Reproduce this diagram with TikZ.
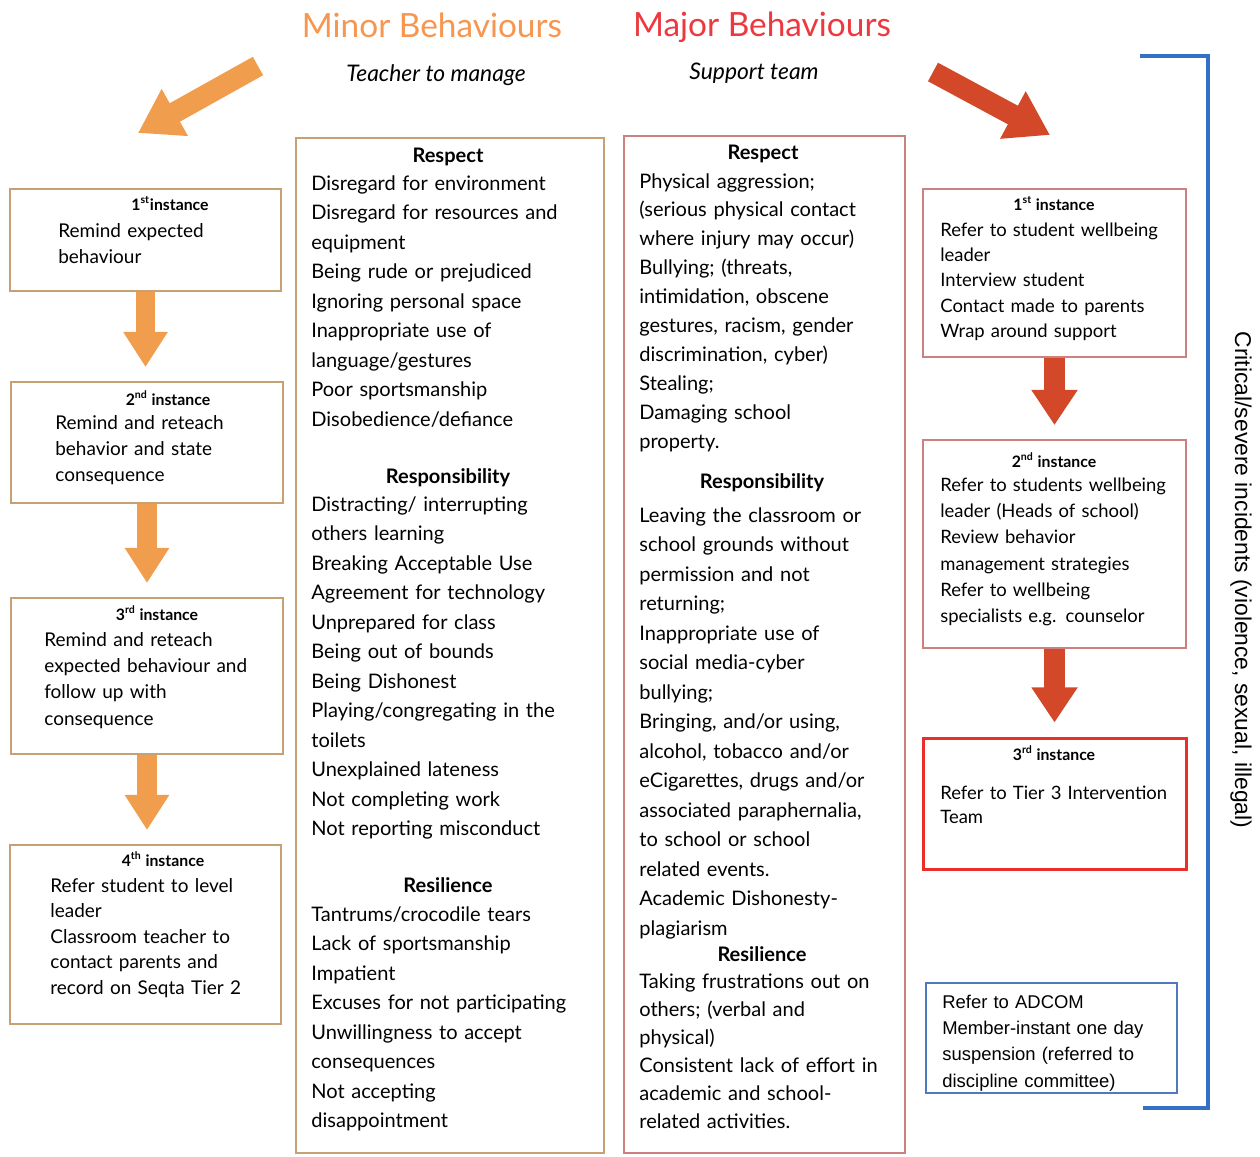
\documentclass[tikz,border=0pt]{standalone}
\usepackage{fontspec}
\setmainfont{Lato}
\newfontfamily\arialfont{Liberation Sans}
\usetikzlibrary{
  arrows.meta,
  positioning,
  fit
}
\definecolor{titleO}{RGB}{246,150,80}
\definecolor{titleR}{RGB}{236,56,62}
\definecolor{tanline}{RGB}{200,160,118}
\definecolor{roseline}{RGB}{205,128,128}
\definecolor{alertline}{RGB}{232,48,40}
\definecolor{adcomline}{RGB}{80,122,192}
\definecolor{bracketline}{RGB}{52,112,196}
\definecolor{arrowO}{RGB}{240,158,78}
\definecolor{arrowR}{RGB}{212,72,42}

\begin{document}
\begin{tikzpicture}[x=0.02cm, y=-0.02cm,
  tanbox/.style={draw=tanline, line width=1.1pt, inner sep=0pt},
  rosebox/.style={draw=roseline, line width=1.1pt, inner sep=0pt},
  redbox/.style={draw=alertline, line width=1.7pt, inner sep=0pt},
  bluebox/.style={draw=adcomline, line width=1.3pt, inner sep=0pt},
  head/.style={anchor=base, inner sep=0pt, font=\fontsize{11.4}{13}\selectfont\bfseries},
  item/.style={anchor=base west, text width=6.4cm, align=left, inner sep=0pt,
               font=\fontsize{11.4}{16.8}\selectfont},
  inst/.style={anchor=base, inner sep=0pt, font=\fontsize{9}{11}\selectfont\bfseries},
  desc/.style={anchor=base west, text width=5.6cm, align=left, inner sep=0pt,
               font=\fontsize{10.8}{15}\selectfont},
  downO/.style={draw=arrowO, line width=11pt, shorten >=0.28cm,
                -{Triangle[width=24pt,length=20pt]}},
  downR/.style={draw=arrowR, line width=12pt, shorten >=0.28cm,
                -{Triangle[width=25pt,length=20pt]}},
  bigO/.style={draw=arrowO, line width=12pt, -{Triangle[width=29pt,length=24pt]}},
  bigR/.style={draw=arrowR, line width=12pt, -{Triangle[width=29pt,length=24pt]}}
]
\useasboundingbox (0,0) rectangle (1260,1156);

% titles
\node[font=\fontsize{19}{22}\selectfont, text=titleO] (minor) at (432,25) {Minor Behaviours};
\node[font=\fontsize{19}{22}\selectfont, text=titleR] (major) at (762,27) {Major Behaviours};
\node[font=\fontsize{13}{15}\selectfont\itshape] (teacher) at (436,75) {Teacher to manage};
\node[font=\fontsize{13}{15}\selectfont\itshape] (support) at (754,73) {Support team};

% big arrows
\coordinate (otail) at (258,66);
\coordinate (otip)  at (138,133);
\draw[bigO] (otail) -- (otip);
\coordinate (rtail) at (933,72);
\coordinate (rtip)  at (1050,135);
\draw[bigR] (rtail) -- (rtip);

% minor steps
\node[tanbox, fit={(10,189) (281,291)}]  (m1) {};
\node[tanbox, fit={(11,382) (283,503)}]  (m2) {};
\node[tanbox, fit={(11,598) (283,754)}]  (m3) {};
\node[tanbox, fit={(10,845) (281,1024)}] (m4) {};

\node[inst] at (170,210) {1\textsuperscript{st}instance};
\node[desc] at (58,237)  {Remind expected\\behaviour};
\node[inst] at (168,405) {2\textsuperscript{nd} instance};
\node[desc] at (55,429)  {Remind and reteach\\behavior and state\\consequence};
\node[inst] at (157,620) {3\textsuperscript{rd} instance};
\node[desc] at (44,646)  {Remind and reteach\\expected behaviour and\\follow up with\\consequence};
\node[inst] at (163,866) {4\textsuperscript{th} instance};
\node[desc, font=\fontsize{10.8}{14.6}\selectfont] at (50,892)  {Refer student to level\\leader\\Classroom teacher to\\contact parents and\\record on Seqta Tier 2};

\draw[downO] (m1.south) -- (m1.south |- m2.north);
\draw[downO] (m2.south) -- (m2.south |- m3.north);
\draw[downO] (m3.south) -- (m3.south |- m4.north);

% minor list
\node[tanbox, fit={(296,138) (604,1153)}] (minorcol) {};
\node[head] at (448,162) {Respect};
\node[item] at (311,190) {Disregard for environment\\Disregard for resources and\\equipment\\Being rude or prejudiced\\Ignoring personal space\\Inappropriate use of\\language/gestures\\Poor sportsmanship\\Disobedience/defiance};
\node[head] at (448,483) {Responsibility};
\node[item] at (311,511) {Distracting/ interrupting\\others learning\\Breaking Acceptable Use\\Agreement for technology\\Unprepared for class\\Being out of bounds\\Being Dishonest\\Playing/congregating in the\\toilets\\Unexplained lateness\\Not completing work\\Not reporting misconduct};
\node[head] at (448,892) {Resilience};
\node[item] at (311,921) {Tantrums/crocodile tears\\Lack of sportsmanship\\Impatient\\Excuses for not participating\\Unwillingness to accept\\consequences\\Not accepting\\disappointment};

% major list
\node[rosebox, fit={(624,136) (905,1153)}] (majorcol) {};
\node[head] at (763,159) {Respect};
\node[item, font=\fontsize{11.4}{16.5}\selectfont] at (639,188) {Physical aggression;\\(serious physical contact\\where injury may occur)\\Bullying; (threats,\\intimidation, obscene\\gestures, racism, gender\\discrimination, cyber)\\Stealing;\\Damaging school\\property.};
\node[head] at (762,488) {Responsibility};
\node[item] at (639,522) {Leaving the classroom or\\school grounds without\\permission and not\\returning;\\Inappropriate use of\\social media-cyber\\bullying;\\Bringing, and/or using,\\alcohol, tobacco and/or\\eCigarettes, drugs and/or\\associated paraphernalia,\\to school or school\\related events.\\Academic Dishonesty-\\plagiarism};
\node[head] at (762,961) {Resilience};
\node[item, font=\fontsize{11.4}{16}\selectfont] at (639,988) {Taking frustrations out on\\others; (verbal and\\physical)\\Consistent lack of effort in\\academic and school-\\related activities.};

% major steps
\node[rosebox, fit={(923,189) (1186,357)}] (s1) {};
\node[rosebox, fit={(923,440) (1186,648)}] (s2) {};
\node[redbox,  fit={(923,738) (1186,869)}] (s3) {};
\node[bluebox, fit={(926,983) (1177,1093)}] (adcom) {};

\node[inst] at (1054,210) {1\textsuperscript{st} instance};
\node[desc, font=\fontsize{10.5}{14.5}\selectfont] at (940,236) {Refer to student wellbeing\\leader\\Interview student\\Contact made to parents\\Wrap around support};
\node[inst] at (1054,467) {2\textsuperscript{nd} instance};
\node[desc, font=\fontsize{10.5}{15}\selectfont] at (940,491) {Refer to students wellbeing\\leader (Heads of school)\\Review behavior\\management strategies\\Refer to wellbeing\\specialists e.g. counselor};
\node[inst] at (1054,760) {3\textsuperscript{rd} instance};
\node[desc, font=\fontsize{10.5}{14}\selectfont] at (940,799) {Refer to Tier 3 Intervention\\Team};
\node[desc, font=\arialfont\fontsize{10.5}{15}\selectfont] at (942,1008) {Refer to ADCOM\\Member-instant one day\\suspension (referred to\\discipline committee)};

\draw[downR] (s1.south) -- (s1.south |- s2.north);
\draw[downR] (s2.south) -- (s2.south |- s3.north);

% critical incidents
\draw[draw=bracketline, line width=2.3pt] (1140,56) -- (1208,56) -- (1208,1108) -- (1143,1108);
\node[rotate=-90, font=\arialfont\fontsize{13}{15}\selectfont] (crit) at (1241,580) {Critical/severe incidents (violence, sexual, illegal)};

\end{tikzpicture}
\end{document}
